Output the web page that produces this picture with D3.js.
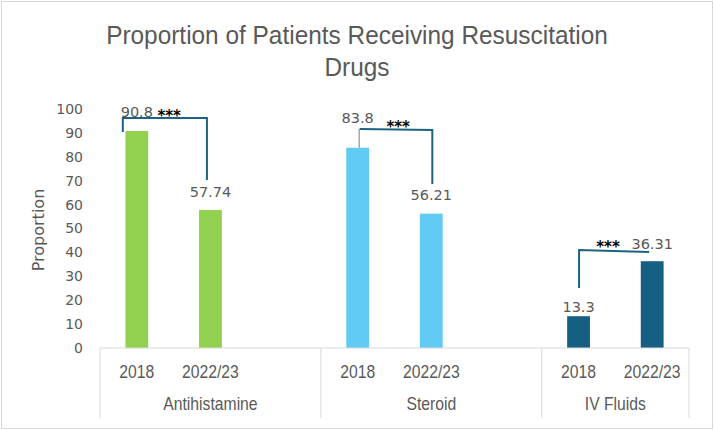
<!DOCTYPE html>
<html>
<head>
<meta charset="utf-8">
<script src="https://cdn.jsdelivr.net/npm/d3@7"></script>
<style>
  body { margin: 0; background: #fff; }
  svg text { fill: #595959; }
</style>
</head>
<body>
<div id="chart"></div>
<script>
// data
const groups = ["Antihistamine", "Steroid", "IV Fluids"];
const years = ["2018", "2022/23"];
const antihistamine = [90.8, 57.74];
const steroid = [83.8, 56.21];
const ivFluids = [13.3, 36.31];
const yTicks = [0, 10, 20, 30, 40, 50, 60, 70, 80, 90, 100];
const sigLabels = ["***", "***", "***"];

const values = [antihistamine, steroid, ivFluids];
const colors = ["#92D050", "#61CBF3", "#156082"];

// dimensions
const width = 714;
const height = 430;
const plot = { left: 100, right: 689, top: 109, bottom: 348 };
const narrow = 0.85; // horizontal squeeze for the narrow-looking labels

const svg = d3.select("#chart")
    .append("svg")
    .attr("width", width)
    .attr("height", height);

// chart border
svg.append("rect")
    .attr("x", 1.5).attr("y", 1.5)
    .attr("width", width - 3).attr("height", height - 3)
    .attr("fill", "#fff")
    .attr("stroke", "#D9D9D9");

// title, squeezed horizontally to look like a narrow face
const title = svg.append("g");
const t1 = title.append("text")
    .attr("x", 0).attr("y", 44)
    .attr("text-anchor", "middle")
    .style("font-family", "'Liberation Sans', Arial, sans-serif")
    .style("font-size", "26px")
    .text("Proportion of Patients Receiving Resuscitation");
title.append("text")
    .attr("x", 0).attr("y", 76)
    .attr("text-anchor", "middle")
    .style("font-family", "'Liberation Sans', Arial, sans-serif")
    .style("font-size", "26px")
    .text("Drugs");
const squeeze = 502 / t1.node().getComputedTextLength();
title.attr("transform", `translate(357, 0) scale(${squeeze}, 1)`);

// slots: each group gets its years plus an empty slot, except the last one
const slots = [];
groups.forEach((g, gi) => {
    years.forEach(y => slots.push(g + "|" + y));
    if (gi < groups.length - 1) slots.push(g + "|");
});

const xScale = d3.scaleBand()
    .domain(slots)
    .range([plot.left, plot.right])
    .padding(0);

const yScale = d3.scaleLinear()
    .domain([0, 100])
    .range([plot.bottom, plot.top]);

const barWidth = xScale.bandwidth() * 0.31;

const bars = [];
groups.forEach((g, gi) => {
    years.forEach((y, yi) => {
        bars.push({ group: g, year: y, value: values[gi][yi], color: colors[gi], key: g + "|" + y });
    });
});
const cx = d => xScale(d.key) + xScale.bandwidth() / 2;

// y axis (labels only)
const yAxis = d3.axisLeft(yScale).tickValues(yTicks).tickSize(0).tickPadding(0);
const yAxisGroup = svg.append("g")
    .attr("transform", `translate(83, 0)`)
    .call(yAxis);
yAxisGroup.select(".domain").remove();
yAxisGroup.selectAll("text")
    .attr("fill", "#595959")
    .style("font-family", "'DejaVu Sans', sans-serif")
    .style("font-size", "14px");

svg.append("text")
    .attr("transform", `translate(44, 230) rotate(-90)`)
    .attr("text-anchor", "middle")
    .style("font-family", "'DejaVu Sans', sans-serif")
    .style("font-size", "16px")
    .text("Proportion");

// bars
svg.append("g")
    .selectAll("rect")
    .data(bars)
    .enter()
    .append("rect")
    .attr("x", d => cx(d) - barWidth / 2)
    .attr("y", d => yScale(d.value))
    .attr("width", barWidth)
    .attr("height", d => yScale(0) - yScale(d.value))
    .attr("fill", d => d.color);

// category axis: line, group separators, year and group labels
const axisG = svg.append("g");
axisG.append("line")
    .attr("x1", plot.left).attr("x2", plot.right)
    .attr("y1", plot.bottom).attr("y2", plot.bottom)
    .attr("stroke", "#D9D9D9");

const groupEdges = [xScale(slots[0])];
groups.forEach(g => {
    const own = slots.filter(s => s.startsWith(g + "|"));
    groupEdges.push(xScale(own[own.length - 1]) + xScale.bandwidth());
});
axisG.selectAll(".sep")
    .data(groupEdges)
    .enter()
    .append("line")
    .attr("x1", d => d).attr("x2", d => d)
    .attr("y1", plot.bottom).attr("y2", 418)
    .attr("stroke", "#D9D9D9");

axisG.selectAll(".year")
    .data(bars)
    .enter()
    .append("text")
    .attr("transform", d => `translate(${cx(d)}, 378) scale(${narrow}, 1)`)
    .attr("text-anchor", "middle")
    .style("font-family", "'Liberation Sans', Arial, sans-serif")
    .style("font-size", "18.5px")
    .text(d => d.year);

axisG.selectAll(".grp")
    .data(groups)
    .enter()
    .append("text")
    .attr("transform", (d, i) => `translate(${(groupEdges[i] + groupEdges[i + 1]) / 2}, 410) scale(${narrow}, 1)`)
    .attr("text-anchor", "middle")
    .style("font-family", "'Liberation Sans', Arial, sans-serif")
    .style("font-size", "18.5px")
    .text(d => d);

// data labels (baseline offset above the bar top, px)
const labelOffsets = [14, 13, 24.7, 13.5, 4, 12];
svg.append("g")
    .selectAll("text")
    .data(bars)
    .enter()
    .append("text")
    .attr("x", cx)
    .attr("y", (d, i) => yScale(d.value) - labelOffsets[i])
    .attr("text-anchor", "middle")
    .style("font-family", "'DejaVu Sans', sans-serif")
    .style("font-size", "14.5px")
    .text(d => d.value);

// leader line for the moved 83.8 label
svg.append("line")
    .attr("x1", cx(bars[2]) + 1.5).attr("x2", cx(bars[2]) + 1.5)
    .attr("y1", yScale(91.6)).attr("y2", yScale(bars[2].value))
    .attr("stroke", "#A6A6A6")
    .attr("stroke-width", 1.5);

// significance brackets: points as [bar index, x offset, value]
const brackets = [
    { pts: [[0, -14, 90.4], [0, -14, 96.2], [1, -3.5, 96.2], [1, -3.5, 70.3]], star: [0.44, 96] },
    { pts: [[2, 2, 91.6], [3, 1, 91.2], [3, 1, 68.6]], star: [2.55, 91.2] },
    { pts: [[4, 0.5, 25.1], [4, 0.5, 41.0], [5, -3, 40.2]], star: [4.4, 40.8] }
];

const bx = p => cx(bars[p[0]]) + p[1];
const line = d3.line().x(bx).y(p => yScale(p[2]));

const sigG = svg.append("g");
sigG.selectAll("path")
    .data(brackets)
    .enter()
    .append("path")
    .attr("d", d => line(d.pts))
    .attr("fill", "none")
    .attr("stroke", "#1B6283")
    .attr("stroke-width", 2);

sigG.selectAll("text")
    .data(brackets)
    .enter()
    .append("text")
    .attr("x", d => {
        const a = cx(bars[Math.floor(d.star[0])]);
        const b = cx(bars[Math.ceil(d.star[0])]);
        return a + (b - a) * (d.star[0] % 1);
    })
    .attr("y", d => yScale(d.star[1]) + 2)
    .attr("text-anchor", "middle")
    .style("font-family", "'DejaVu Sans', sans-serif")
    .style("font-size", "15px")
    .style("font-weight", "bold")
    .style("fill", "#000")
    .text((d, i) => sigLabels[i]);
</script>
</body>
</html>
